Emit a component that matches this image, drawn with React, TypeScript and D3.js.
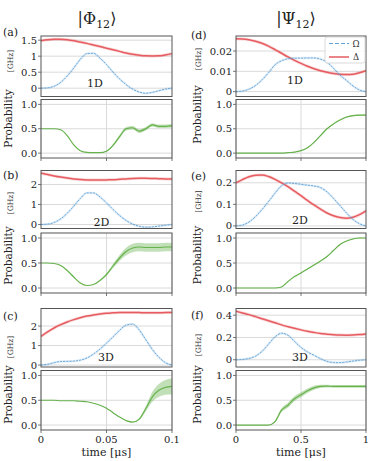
import React from 'react';
import * as d3 from 'd3';

// ---------- time axes ----------
const timeShort = [0, 0.005, 0.01, 0.015, 0.02, 0.025, 0.03, 0.035, 0.04, 0.045, 0.05, 0.055, 0.06, 0.065, 0.07, 0.075, 0.08, 0.085, 0.09, 0.095, 0.1];
const timeLong = [0, 0.05, 0.1, 0.15, 0.2, 0.25, 0.3, 0.35, 0.4, 0.45, 0.5, 0.55, 0.6, 0.65, 0.7, 0.75, 0.8, 0.85, 0.9, 0.95, 1];

// ---------- |Phi12>, 1D (a) ----------
const omegaA = [0, 0.01, 0.06, 0.18, 0.38, 0.63, 0.9, 1.08, 1.09, 0.94, 0.74, 0.5, 0.29, 0.11, -0.03, -0.12, -0.16, -0.13, -0.08, -0.03, 0];
const deltaA = [1.48, 1.51, 1.525, 1.525, 1.51, 1.48, 1.44, 1.4, 1.35, 1.3, 1.25, 1.2, 1.15, 1.1, 1.06, 1.03, 1.01, 1.005, 1.01, 1.04, 1.08];
const probA = [0.5, 0.5, 0.5, 0.48, 0.36, 0.17, 0.05, 0.015, 0.01, 0.01, 0.04, 0.16, 0.34, 0.5, 0.52, 0.45, 0.5, 0.58, 0.55, 0.55, 0.56];
const spreadA = [0, 0, 0, 0, 0, 0, 0, 0, 0, 0.003, 0.01, 0.02, 0.035, 0.035, 0.035, 0.035, 0.035, 0.035, 0.035, 0.035, 0.035];

// ---------- |Phi12>, 2D (b) ----------
const omegaB = [0, 0.02, 0.1, 0.28, 0.56, 0.92, 1.3, 1.58, 1.58, 1.38, 1.08, 0.75, 0.45, 0.2, 0.02, -0.09, -0.13, -0.12, -0.08, -0.04, 0];
const deltaB = [2.58, 2.5, 2.43, 2.37, 2.32, 2.28, 2.25, 2.23, 2.22, 2.22, 2.23, 2.24, 2.26, 2.28, 2.3, 2.31, 2.31, 2.3, 2.29, 2.28, 2.27];
const probB = [0.5, 0.5, 0.49, 0.45, 0.35, 0.22, 0.1, 0.05, 0.07, 0.15, 0.27, 0.44, 0.6, 0.73, 0.8, 0.82, 0.81, 0.81, 0.81, 0.82, 0.82];
const spreadB = [0, 0, 0, 0, 0, 0, 0, 0, 0, 0.005, 0.02, 0.04, 0.06, 0.075, 0.085, 0.085, 0.085, 0.085, 0.085, 0.085, 0.085];

// ---------- |Phi12>, 3D (c) ----------
const omegaC = [0, 0.04, 0.12, 0.18, 0.19, 0.2, 0.25, 0.36, 0.56, 0.82, 1.12, 1.45, 1.78, 2.05, 2.1, 1.8, 1.3, 0.8, 0.4, 0.12, 0];
const deltaC = [1.47, 1.7, 1.9, 2.07, 2.21, 2.33, 2.43, 2.51, 2.57, 2.62, 2.66, 2.68, 2.7, 2.7, 2.7, 2.69, 2.68, 2.68, 2.68, 2.69, 2.69];
const probC = [0.5, 0.5, 0.5, 0.49, 0.49, 0.49, 0.48, 0.47, 0.44, 0.4, 0.34, 0.25, 0.16, 0.09, 0.06, 0.12, 0.33, 0.57, 0.7, 0.76, 0.78];
const spreadC = [0, 0, 0, 0, 0, 0, 0, 0, 0, 0, 0, 0, 0, 0, 0.005, 0.02, 0.05, 0.1, 0.13, 0.15, 0.16];

// ---------- |Psi12>, 1D (d) ----------
const omegaD = [0, 0.0003, 0.0012, 0.003, 0.0058, 0.0093, 0.0132, 0.0152, 0.0162, 0.0165, 0.0165, 0.0166, 0.0166, 0.016, 0.0145, 0.0115, 0.0081, 0.0055, 0.0028, 0.0008, 0];
const deltaD = [0.026, 0.0259, 0.0255, 0.0248, 0.0238, 0.0224, 0.0207, 0.0189, 0.0171, 0.0154, 0.0139, 0.0125, 0.0113, 0.0103, 0.0095, 0.0089, 0.0085, 0.0084, 0.0086, 0.0093, 0.0103];
const probD = [0, 0, 0, 0, 0, 0, 0, 0, 0.01, 0.02, 0.05, 0.11, 0.22, 0.36, 0.5, 0.6, 0.68, 0.74, 0.77, 0.78, 0.78];
const spreadD = [0, 0, 0, 0, 0, 0, 0, 0, 0, 0, 0.005, 0.008, 0.01, 0.01, 0.012, 0.012, 0.012, 0.012, 0.012, 0.012, 0.012];

// ---------- |Psi12>, 2D (e) ----------
const omegaE = [0, 0.004, 0.018, 0.043, 0.076, 0.113, 0.152, 0.186, 0.199, 0.197, 0.193, 0.189, 0.185, 0.178, 0.158, 0.128, 0.094, 0.06, 0.03, 0.01, 0];
const deltaE = [0.2, 0.215, 0.228, 0.235, 0.236, 0.229, 0.216, 0.2, 0.182, 0.161, 0.14, 0.118, 0.097, 0.078, 0.06, 0.047, 0.039, 0.036, 0.04, 0.052, 0.07];
const probE = [0, 0, 0, 0, 0, 0, 0, 0.02, 0.13, 0.23, 0.3, 0.38, 0.46, 0.54, 0.63, 0.75, 0.87, 0.94, 0.98, 1.0, 1.0];
const spreadE = [0, 0, 0, 0, 0, 0, 0, 0.003, 0.006, 0.008, 0.008, 0.008, 0.008, 0.008, 0.008, 0.008, 0.008, 0.006, 0.005, 0.005, 0.005];

// ---------- |Psi12>, 3D (f) ----------
const omegaF = [0, 0.003, 0.012, 0.032, 0.075, 0.14, 0.205, 0.238, 0.22, 0.165, 0.11, 0.07, 0.04, 0.01, -0.015, -0.025, -0.026, -0.02, -0.012, -0.005, 0];
const deltaF = [0.435, 0.42, 0.405, 0.387, 0.368, 0.35, 0.332, 0.313, 0.297, 0.282, 0.268, 0.255, 0.245, 0.236, 0.23, 0.225, 0.222, 0.221, 0.222, 0.226, 0.232];
const probF = [0, 0, 0, 0, 0, 0, 0.07, 0.3, 0.4, 0.53, 0.61, 0.69, 0.75, 0.78, 0.785, 0.78, 0.78, 0.78, 0.78, 0.78, 0.78];
const spreadF = [0, 0, 0, 0, 0, 0, 0.02, 0.04, 0.05, 0.05, 0.05, 0.045, 0.04, 0.035, 0.03, 0.03, 0.03, 0.03, 0.03, 0.03, 0.03];

// ---------- ticks ----------
const xTicksShort = [0, 0.05, 0.1];
const xTickLabelsShort = ['0', '0.05', '0.1'];
const xTicksLong = [0, 0.5, 1];
const xTickLabelsLong = ['0', '0.5', '1'];
const probTicks = [0, 0.5, 1];
const probTickLabels = ['0.0', '0.5', '1.0'];
const ticksA = [0, 0.5, 1, 1.5];
const tickLabelsA = ['0', '0.5', '1', '1.5'];
const ticksB = [0, 1, 2];
const tickLabelsB = ['0', '1', '2'];
const ticksC = [0, 1, 2];
const tickLabelsC = ['0', '1', '2'];
const ticksD = [0, 0.01, 0.02];
const tickLabelsD = ['0', '0.01', '0.02'];
const ticksE = [0, 0.1, 0.2];
const tickLabelsE = ['0', '0.1', '0.2'];
const ticksF = [0, 0.2, 0.4];
const tickLabelsF = ['0', '0.2', '0.4'];

const FONT = "'DejaVu Serif', serif";
const BLUE = '#5fa2d6';
const RED = '#e65c60';
const GREEN = '#66b24c';
const GRID = '#dadada';
const FRAME = '#555';

const COLS = [{ x0: 41, x1: 172 }, { x0: 236, x1: 366 }];
const UPPER = [[36, 96.5], [170.5, 228.5], [308.5, 367]];
const LOWER = [[99.5, 158], [233, 293], [370.5, 430]];

type PanelSpec = {
  id: string; col: number; row: number; letter: string; tag: string;
  times: number[]; xDom: [number, number];
  omega: number[]; delta: number[]; prob: number[]; spread: number[];
  yDom: [number, number]; ticks: number[]; tickLabels: string[];
  letterY: number; tagX: number; tagY: number; ghzY: number; probY: number;
};

const panels: PanelSpec[] = [
  { id: 'a', col: 0, row: 0, letter: '(a)', tag: '1D', times: timeShort, xDom: [0, 0.1], omega: omegaA, delta: deltaA, prob: probA, spread: spreadA, yDom: [-0.26, 1.63], ticks: ticksA, tickLabels: tickLabelsA, letterY: 36, tagX: 95, tagY: 86.5, ghzY: 61, probY: 118.5 },
  { id: 'b', col: 0, row: 1, letter: '(b)', tag: '2D', times: timeShort, xDom: [0, 0.1], omega: omegaB, delta: deltaB, prob: probB, spread: spreadB, yDom: [-0.2, 2.7], ticks: ticksB, tickLabels: tickLabelsB, letterY: 179, tagX: 101.5, tagY: 226, ghzY: 203, probY: 255.5 },
  { id: 'c', col: 0, row: 2, letter: '(c)', tag: '3D', times: timeShort, xDom: [0, 0.1], omega: omegaC, delta: deltaC, prob: probC, spread: spreadC, yDom: [-0.1, 2.9], ticks: ticksC, tickLabels: tickLabelsC, letterY: 320, tagX: 106, tagY: 360.5, ghzY: 347, probY: 394.5 },
  { id: 'd', col: 1, row: 0, letter: '(d)', tag: '1D', times: timeLong, xDom: [0, 1], omega: omegaD, delta: deltaD, prob: probD, spread: spreadD, yDom: [-0.0024, 0.0274], ticks: ticksD, tickLabels: tickLabelsD, letterY: 39, tagX: 295, tagY: 84, ghzY: 59, probY: 114.5 },
  { id: 'e', col: 1, row: 1, letter: '(e)', tag: '2D', times: timeLong, xDom: [0, 1], omega: omegaE, delta: deltaE, prob: probE, spread: spreadE, yDom: [-0.012, 0.257], ticks: ticksE, tickLabels: tickLabelsE, letterY: 180, tagX: 300, tagY: 224, ghzY: 201.5, probY: 255 },
  { id: 'f', col: 1, row: 2, letter: '(f)', tag: '3D', times: timeLong, xDom: [0, 1], omega: omegaF, delta: deltaF, prob: probF, spread: spreadF, yDom: [-0.065, 0.46], ticks: ticksF, tickLabels: tickLabelsF, letterY: 319, tagX: 300, tagY: 360.5, ghzY: 345, probY: 394.5 },
];

function Panel({ p }: { p: PanelSpec }) {
  const { x0, x1 } = COLS[p.col];
  const [uy0, uy1] = UPPER[p.row];
  const [ly0, ly1] = LOWER[p.row];
  const x = d3.scaleLinear().domain(p.xDom).range([x0, x1]);
  const yU = d3.scaleLinear().domain(p.yDom).range([uy1, uy0]);
  const yL = d3.scaleLinear().domain([-0.1, 1.1]).range([ly1, ly0]);
  const idx = p.times.map((_, i) => i);
  const lineU = (arr: number[]) =>
    d3.line<number>().x((i) => x(p.times[i])).y((i) => yU(arr[i])).curve(d3.curveMonotoneX)(idx) || '';
  const lineL = d3.line<number>().x((i) => x(p.times[i])).y((i) => yL(p.prob[i])).curve(d3.curveMonotoneX)(idx) || '';
  const band = d3.area<number>().x((i) => x(p.times[i]))
    .y0((i) => yL(p.prob[i] - p.spread[i]))
    .y1((i) => yL(p.prob[i] + p.spread[i]))
    .curve(d3.curveMonotoneX)(idx) || '';
  const xTicks = p.col === 0 ? xTicksShort : xTicksLong;
  const xLabels = p.col === 0 ? xTickLabelsShort : xTickLabelsLong;
  const labelX = p.col === 0 ? 12.5 : 201;
  return (
    <g>
      <defs>
        <clipPath id={`cu-${p.id}`}><rect x={x0} y={uy0} width={x1 - x0} height={uy1 - uy0} /></clipPath>
        <clipPath id={`cl-${p.id}`}><rect x={x0} y={ly0} width={x1 - x0} height={ly1 - ly0} /></clipPath>
      </defs>
      {/* upper panel */}
      <rect x={x0} y={uy0} width={x1 - x0} height={uy1 - uy0} fill="#fff" />
      {p.ticks.map((t) => (
        <line key={`gu${t}`} x1={x0} x2={x1} y1={yU(t)} y2={yU(t)} stroke={GRID} strokeWidth={1} />
      ))}
      <g clipPath={`url(#cu-${p.id})`}>
        <path d={lineU(p.delta)} fill="none" stroke={RED} strokeOpacity={0.25} strokeWidth={3} />
        <path d={lineU(p.delta)} fill="none" stroke={RED} strokeWidth={1.5} />
        <path d={lineU(p.omega)} fill="none" stroke={BLUE} strokeOpacity={0.18} strokeWidth={2.4} />
        <path d={lineU(p.omega)} fill="none" stroke={BLUE} strokeWidth={0.9} strokeDasharray="2.2,1" />
      </g>
      <rect x={x0} y={uy0} width={x1 - x0} height={uy1 - uy0} fill="none" stroke={FRAME} strokeWidth={1} />
      {p.ticks.map((t, i) => (
        <g key={`tu${t}`}>
          <line x1={x0 - 3} x2={x0} y1={yU(t)} y2={yU(t)} stroke={FRAME} strokeWidth={0.8} />
          <text x={x0 - 4} y={yU(t) + 3.5} fontSize={10} textAnchor="end" fill="#222" fontFamily={FONT}>{p.tickLabels[i]}</text>
        </g>
      ))}
      <text x={p.tagX} y={p.tagY} fontSize={11} textAnchor="middle" fill="#222" fontFamily={FONT}>{p.tag}</text>
      <text transform={`translate(${labelX},${p.ghzY}) rotate(-90)`} fontSize={7.5} textAnchor="middle" fill="#333" fontFamily={FONT}>[GHz]</text>

      {/* lower panel */}
      <rect x={x0} y={ly0} width={x1 - x0} height={ly1 - ly0} fill="#fff" />
      {probTicks.map((t) => (
        <line key={`gl${t}`} x1={x0} x2={x1} y1={yL(t)} y2={yL(t)} stroke={GRID} strokeWidth={1} />
      ))}
      {xTicks.map((t) => (
        <line key={`gv${t}`} x1={x(t)} x2={x(t)} y1={ly0} y2={ly1} stroke={GRID} strokeWidth={1} />
      ))}
      <g clipPath={`url(#cl-${p.id})`}>
        <path d={band} fill={GREEN} fillOpacity={0.4} stroke="none" />
        <path d={lineL} fill="none" stroke={GREEN} strokeWidth={1.2} />
      </g>
      <rect x={x0} y={ly0} width={x1 - x0} height={ly1 - ly0} fill="none" stroke={FRAME} strokeWidth={1} />
      {probTicks.map((t, i) => (
        <g key={`tl${t}`}>
          <line x1={x0 - 3} x2={x0} y1={yL(t)} y2={yL(t)} stroke={FRAME} strokeWidth={0.8} />
          <text x={x0 - 4} y={yL(t) + 3.5} fontSize={10} textAnchor="end" fill="#222" fontFamily={FONT}>{probTickLabels[i]}</text>
        </g>
      ))}
      {xTicks.map((t) => (
        <line key={`tx${t}`} x1={x(t)} x2={x(t)} y1={ly1} y2={ly1 + 3} stroke={FRAME} strokeWidth={0.8} />
      ))}
      {p.row === 2 && xTicks.map((t, i) => (
        <text key={`xl${t}`} x={x(t)} y={443} fontSize={10} textAnchor="middle" fill="#222" fontFamily={FONT}>{xLabels[i]}</text>
      ))}
      <text transform={`translate(${labelX - 0.5},${p.probY}) rotate(-90)`} fontSize={10.5} textAnchor="middle" fill="#222" fontFamily={FONT}>Probability</text>
      <text x={p.col === 0 ? 3 : 191} y={p.letterY} fontSize={11} fill="#222" fontFamily={FONT}>{p.letter}</text>
    </g>
  );
}

export default function App() {
  return (
    <svg width={374} height={461} style={{ position: 'absolute', left: 0, top: 0, background: '#fff', fontFamily: FONT }}>
      <rect x={0} y={0} width={374} height={461} fill="#fff" />
      <text x={97} y={24} fontSize={16} textAnchor="middle" fill="#222" fontFamily={FONT}>
        |Φ<tspan fontSize={11} dy={4}>12</tspan><tspan dy={-4}>⟩</tspan>
      </text>
      <text x={296} y={24} fontSize={16} textAnchor="middle" fill="#222" fontFamily={FONT}>
        |Ψ<tspan fontSize={11} dy={4}>12</tspan><tspan dy={-4}>⟩</tspan>
      </text>
      {panels.map((p) => <Panel key={p.id} p={p} />)}
      {/* legend in (d) */}
      <g>
        <rect x={325} y={37} width={40} height={26} rx={2} fill="#fff" fillOpacity={0.85} stroke="#d0d0d0" strokeWidth={0.8} />
        <line x1={329} x2={349} y1={43.5} y2={43.5} stroke={BLUE} strokeWidth={1.2} strokeDasharray="4,2" />
        <text x={356} y={46.5} fontSize={8.5} textAnchor="middle" fill="#333" fontFamily={FONT}>Ω</text>
        <line x1={329} x2={349} y1={57} y2={57} stroke={RED} strokeWidth={1.5} />
        <text x={356} y={60} fontSize={8.5} textAnchor="middle" fill="#333" fontFamily={FONT}>Δ</text>
      </g>
      <text x={106.5} y={456} fontSize={11} textAnchor="middle" fill="#222" fontFamily={FONT}>time  [μs]</text>
      <text x={301} y={456} fontSize={11} textAnchor="middle" fill="#222" fontFamily={FONT}>time  [μs]</text>
    </svg>
  );
}
